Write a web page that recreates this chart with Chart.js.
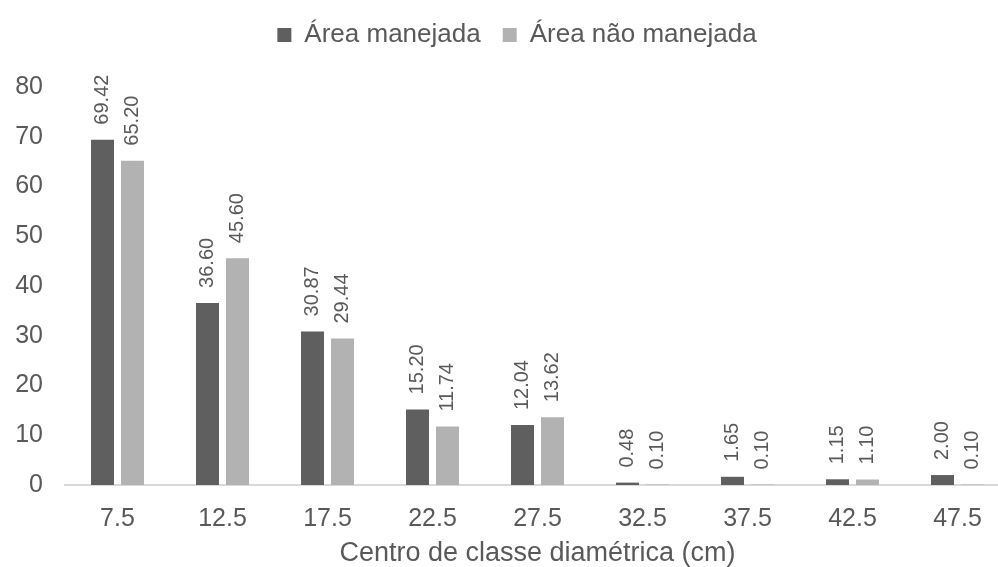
<!DOCTYPE html>
<html>
<head>
<meta charset="utf-8">
<script src="https://cdn.jsdelivr.net/npm/chart.js@4"></script>
<style>
  html, body { margin: 0; padding: 0; background: #fff; overflow: hidden; }
</style>
</head>
<body>
<canvas id="myChart" width="1012" height="567"></canvas>
<script>
// classes de diâmetro e densidade por área
const classes = ["7.5", "12.5", "17.5", "22.5", "27.5", "32.5", "37.5", "42.5", "47.5"]
const manejada = [69.42, 36.60, 30.87, 15.20, 12.04, 0.48, 1.65, 1.15, 2.00]
const naoManejada = [65.20, 45.60, 29.44, 11.74, 13.62, 0.10, 0.10, 1.10, 0.10]
const yTicks = [0, 10, 20, 30, 40, 50, 60, 70, 80]

const textColor = '#595959'
const fontFamily = 'Arial, "Liberation Sans", sans-serif'

// rótulos verticais acima de cada barra
const barLabels = {
    id: 'barLabels',
    afterDatasetsDraw(chart) {
        const ctx = chart.ctx
        ctx.save()
        ctx.fillStyle = textColor
        ctx.font = '20px ' + fontFamily
        ctx.textAlign = 'left'
        ctx.textBaseline = 'middle'
        chart.data.datasets.forEach((ds, i) => {
            const meta = chart.getDatasetMeta(i)
            meta.data.forEach((bar, j) => {
                ctx.save()
                ctx.translate(bar.x, bar.y - 15)
                ctx.rotate(-Math.PI / 2)
                ctx.fillText(ds.data[j].toFixed(2), 0, 0)
                ctx.restore()
            })
        })
        ctx.restore()
    }
}

// espaço extra abaixo da legenda e leve deslocamento para a direita
const legendGap = {
    id: 'legendGap',
    beforeInit(chart) {
        const legend = chart.legend
        const fit = legend.fit
        legend.fit = function () {
            fit.bind(legend)()
            this.height += 29
        }
        const draw = legend.draw
        legend.draw = function () {
            chart.ctx.save()
            chart.ctx.translate(12, 0)
            draw.bind(legend)()
            chart.ctx.restore()
        }
    }
}

const ctx = document.querySelector("#myChart")
new Chart(ctx, {
    type: 'bar',
    data: {
        labels: classes,
        datasets: [
            {
                label: 'Área manejada',
                data: manejada,
                backgroundColor: '#5f5f5f',
                categoryPercentage: 0.571,
                barPercentage: 0.767,
            },
            {
                label: 'Área não manejada',
                data: naoManejada,
                backgroundColor: '#b2b2b2',
                categoryPercentage: 0.571,
                barPercentage: 0.767,
            },
        ],
    },
    options: {
        responsive: false,
        animation: false,
        layout: { padding: { left: 0, right: 2, top: 0, bottom: 0 } },
        plugins: {
            legend: {
                position: 'top',
                labels: {
                    color: textColor,
                    font: { size: 26, family: fontFamily },
                    boxWidth: 14,
                    boxHeight: 14,
                    padding: 22,
                },
            },
            tooltip: { enabled: false },
        },
        scales: {
            x: {
                afterFit: (scale) => {
                    scale.height = 82
                },
                grid: { display: false, drawTicks: false },
                border: { color: '#d9d9d9', width: 2 },
                ticks: {
                    color: textColor,
                    font: { size: 25, family: fontFamily, lineHeight: 1 },
                    padding: 22,
                },
                title: {
                    display: true,
                    text: 'Centro de classe diamétrica (cm)',
                    color: textColor,
                    font: { size: 27, family: fontFamily, lineHeight: 1 },
                    padding: { top: 10, bottom: 0 },
                },
            },
            y: {
                min: 0,
                max: 80,
                afterBuildTicks: (scale) => {
                    scale.ticks = yTicks.map(v => ({ value: v }))
                },
                afterFit: (scale) => {
                    scale.width = 65
                },
                grid: { display: false, drawTicks: false },
                border: { display: false },
                ticks: {
                    color: textColor,
                    font: { size: 25, family: fontFamily },
                    padding: 22,
                },
            },
        },
    },
    plugins: [barLabels, legendGap],
})
</script>
</body>
</html>
